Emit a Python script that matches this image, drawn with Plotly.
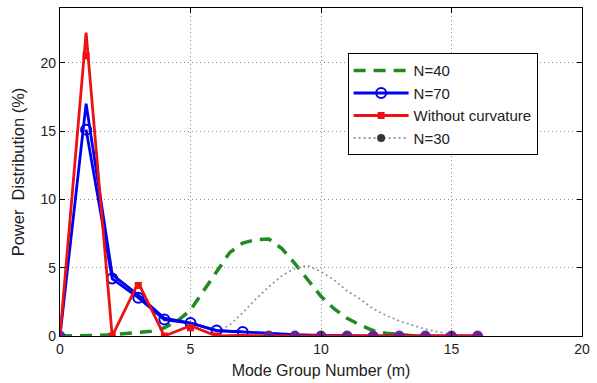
import plotly.graph_objects as go

# ---- data ----
m_int = list(range(0, 17))

# N=70 (blue) line and circle markers
n70_line = [0, 17.0, 4.5, 3.0, 1.3, 0.95, 0.4, 0.3, 0.15, 0.1, 0.05, 0, 0, 0, 0, 0, 0]
n70_mark_x = [1, 2, 3, 4, 5, 6, 7]
n70_mark_y = [15.1, 4.2, 2.8, 1.2, 0.95, 0.4, 0.3]

# Without curvature (red) line and square markers
wc_line = [0, 22.2, 0, 3.9, 0, 0.75, 0, 0.05, 0, 0, 0, 0, 0, 0, 0, 0, 0]
wc_mark_x = [1, 2, 3, 4, 5, 6]
wc_mark_y = [20.5, 0, 3.7, 0, 0.6, 0]

# N=40 (green dashed)
n40_x = [0, 0.5, 1, 1.5, 2, 2.5, 3, 3.5, 4, 4.5, 5, 5.5, 6, 6.5, 7, 7.5, 8, 8.5, 9,
         9.5, 10, 10.5, 11, 11.5, 12, 12.5, 13, 13.5, 14]
n40_y = [0, 0, 0.02, 0.05, 0.1, 0.18, 0.25, 0.35, 0.6, 1.1, 1.9, 3.3, 4.8, 6.1, 6.8,
         7.05, 7.1, 6.4, 5.3, 4.1, 2.9, 2.0, 1.3, 0.8, 0.4, 0.2, 0.08, 0.02, 0]

# N=30 (grey dotted)
n30_x = [6, 6.5, 7, 7.5, 8, 8.5, 9, 9.5, 10, 10.5, 11, 11.5, 12, 12.5, 13, 13.5,
         14, 14.5, 15, 15.5]
n30_y = [0.3, 0.8, 1.7, 2.7, 3.6, 4.4, 4.95, 5.15, 4.7, 4.1, 3.3, 2.7, 2.0, 1.5,
         1.1, 0.8, 0.5, 0.3, 0.1, 0]
n30_dot_x = [0, 8, 9, 10, 11, 12, 13, 14, 15, 16]
n30_dot_y = [0, 0, 0, 0, 0, 0, 0, 0, 0, 0]

x_ticks = [0, 5, 10, 15, 20]
y_ticks = [0, 5, 10, 15, 20]

BLUE = "#0000EE"
RED = "#EE1111"
GREEN = "#218A21"
GREY = "#999999"
PURPLE = "#7A1E82"
FONT = "Liberation Sans, Arial"

fig = go.Figure()

# N=40
fig.add_trace(go.Scatter(x=n40_x, y=n40_y, mode="lines", name="N=40",
                         line=dict(color=GREEN, width=3.5, dash="12px,8px")))
# N=30 curve
fig.add_trace(go.Scatter(x=n30_x, y=n30_y, mode="lines", showlegend=False,
                         line=dict(color=GREY, width=1.8, dash="2px,3px")))
# N=70
fig.add_trace(go.Scatter(x=m_int, y=n70_line, mode="lines", name="N=70",
                         line=dict(color=BLUE, width=2.8), legendgroup="n70",
                         showlegend=False))
fig.add_trace(go.Scatter(x=n70_mark_x, y=n70_mark_y, mode="lines+markers", name="N=70",
                         legendgroup="n70",
                         line=dict(color=BLUE, width=2.8),
                         marker=dict(symbol="circle-open", size=10, color=BLUE,
                                     line=dict(width=2, color=BLUE))))
# Without curvature
fig.add_trace(go.Scatter(x=m_int, y=wc_line, mode="lines", name="Without curvature",
                         line=dict(color=RED, width=2.8), legendgroup="wc",
                         showlegend=False))
fig.add_trace(go.Scatter(x=wc_mark_x, y=wc_mark_y, mode="markers", name="Without curvature",
                         legendgroup="wc", showlegend=False,
                         marker=dict(symbol="square", size=7, color=RED)))
fig.add_trace(go.Scatter(x=[None], y=[None], mode="lines+markers", name="Without curvature",
                         legendgroup="wc",
                         line=dict(color=RED, width=2.8),
                         marker=dict(symbol="square", size=7, color=RED)))
# N=30 dots
fig.add_trace(go.Scatter(x=n30_dot_x, y=n30_dot_y, mode="markers", showlegend=False,
                         marker=dict(symbol="circle", size=10, color=PURPLE,
                                     line=dict(width=1, color="#5A2A9A"))))
fig.add_trace(go.Scatter(x=[None], y=[None], mode="lines+markers", name="N=30",
                         line=dict(color=GREY, width=1.8, dash="2px,3px"),
                         marker=dict(symbol="circle", size=8, color="#333333")))

axis_common = dict(
    showline=True, linecolor="black", linewidth=1.2, mirror="allticks",
    ticks="inside", ticklen=5, tickcolor="black",
    showgrid=True, gridcolor="#8A8A8A", griddash="1px,3px", gridwidth=1,
    zeroline=False, tickfont=dict(family=FONT, size=14, color="#222"),
)

fig.update_layout(
    width=597, height=383,
    margin=dict(l=60, r=12, t=7, b=46),
    paper_bgcolor="white", plot_bgcolor="white",
    font=dict(family=FONT, size=14, color="#222"),
    xaxis=dict(range=[0, 20], tickvals=x_ticks,
               title=dict(text="Mode Group Number (m)", standoff=8,
                          font=dict(size=16)),
               **axis_common),
    yaxis=dict(range=[0, 24], tickvals=y_ticks,
               title=dict(text="Power  Distribution (%)", standoff=11,
                          font=dict(size=16.5)),
               **axis_common),
    legend=dict(x=0.551, y=0.862, xanchor="left", yanchor="top",
                bgcolor="white", bordercolor="black", borderwidth=1,
                font=dict(size=15), tracegroupgap=0, itemwidth=55,
                traceorder="normal"),
    showlegend=True,
)

fig.write_html("out.html", config={"displayModeBar": False},
               post_script="document.body.style.margin='0';")
